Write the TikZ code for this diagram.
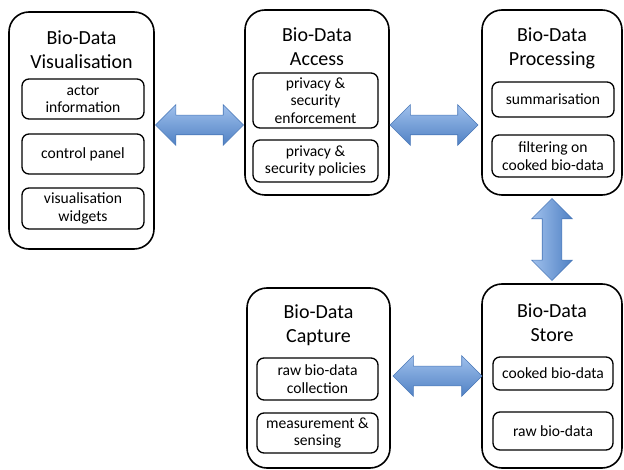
\documentclass[tikz,border=0pt]{standalone}
\usepackage{fontspec}
\setmainfont{Carlito}
\usetikzlibrary{shapes.arrows,calc}

\begin{document}
\begin{tikzpicture}[x=1pt,y=-1pt,
    biobox/.style={shape=rectangle,draw,line width=1.6pt,rounded corners=20pt},
    bioitem/.style={shape=rectangle,draw,line width=1.3pt,rounded corners=7pt,align=center,inner sep=0pt,font=\fontsize{15.6}{17.5}\selectfont},
    biotitle/.style={align=center,inner sep=0pt,font=\fontsize{20}{24}\selectfont},
    bioarrow/.style={double arrow,draw=bio_arrowline,line width=0.6pt,double arrow head extend=10.5pt,inner sep=9.5pt}]
    \definecolor{bio_arrowlight}{RGB}{160,192,236}
    \definecolor{bio_arrowdark}{RGB}{79,129,196}
    \definecolor{bio_arrowline}{RGB}{74,120,184}
    \useasboundingbox (0,0) rectangle (624,470);
    \node[biobox,minimum width=145pt,minimum height=237pt] (vis)  at (81.5,130.5) {};
    \node[biobox,minimum width=144pt,minimum height=185pt] (acc)  at (317,102.5) {};
    \node[biobox,minimum width=140pt,minimum height=185pt] (proc) at (552,102.5) {};
    \node[biobox,minimum width=143pt,minimum height=180pt] (cap)  at (318.5,378) {};
    \node[biobox,minimum width=140pt,minimum height=184pt] (store) at (552,376) {};
    \node[biotitle] (visT)   at (81.5,50)  {Bio-Data\\Visualisation};
    \node[biotitle] (accT)   at (317,47)   {Bio-Data\\Access};
    \node[biotitle] (procT)  at (552,48.5) {Bio-Data\\Processing};
    \node[biotitle] (capT)   at (318.5,325) {Bio-Data\\Capture};
    \node[biotitle] (storeT) at (552,322.5) {Bio-Data\\Store};
    \node[bioitem,minimum width=122pt,minimum height=40pt] (visA) at (83,99)    {actor\\information};
    \node[bioitem,minimum width=122pt,minimum height=40pt] (visB) at (83,154)   {control panel};
    \node[bioitem,minimum width=122pt,minimum height=41pt] (visC) at (83,208.5) {visualisation\\widgets};
    \node[bioitem,minimum width=125pt,minimum height=55pt] (accA) at (315.5,100.5) {privacy \&\\security\\enforcement};
    \node[bioitem,minimum width=125pt,minimum height=42pt] (accB) at (315.5,161)   {privacy \&\\security policies};
    \node[bioitem,minimum width=122pt,minimum height=35pt] (procA) at (553,99.5) {summarisation};
    \node[bioitem,minimum width=122pt,minimum height=42pt] (procB) at (553,156)  {filtering on\\cooked bio-data};
    \node[bioitem,minimum width=121pt,minimum height=42pt] (capA) at (317.5,379) {raw bio-data\\collection};
    \node[bioitem,minimum width=121pt,minimum height=40pt] (capB) at (317.5,433) {measurement \&\\sensing};
    \node[bioitem,minimum width=120pt,minimum height=33pt] (storeA) at (553,373.5) {cooked bio-data};
    \node[bioitem,minimum width=120pt,minimum height=38pt] (storeB) at (553,431)   {raw bio-data};
    \node[bioarrow,minimum height=88pt,top color=bio_arrowlight,bottom color=bio_arrowdark] (visacc) at ($(vis.east)!.5!(acc.west)+(0,8.5)$) {};
    \node[bioarrow,minimum height=88pt,top color=bio_arrowlight,bottom color=bio_arrowdark] (accproc) at ($(acc.east)!.5!(proc.west)+(-1.5,22.5)$) {};
    \node[bioarrow,minimum height=89pt,top color=bio_arrowlight,bottom color=bio_arrowdark] (capstore) at ($(cap.east)!.5!(store.west)+(1.5,-1)$) {};
    \node[bioarrow,minimum height=82pt,shape border rotate=90,left color=bio_arrowlight,right color=bio_arrowdark] (procstore) at ($(proc.south)!.5!(store.north)$) {};
\end{tikzpicture}
\end{document}
